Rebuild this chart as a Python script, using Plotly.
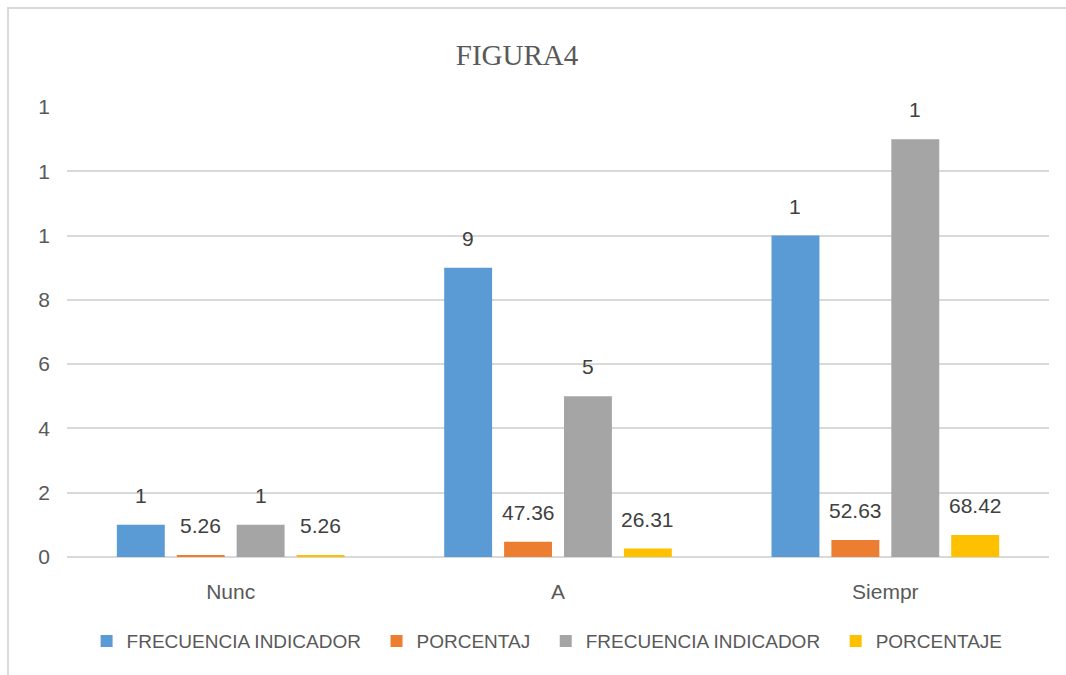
import plotly.graph_objects as go

categories = ["Nunc", "A", "Siempr"]
series_names = ["FRECUENCIA INDICADOR", "PORCENTAJ", "FRECUENCIA INDICADOR", "PORCENTAJE"]
freq_1 = [1, 9, 10]
pct_1 = [0.0526, 0.4736, 0.5263]
freq_2 = [1, 5, 13]
pct_2 = [0.0526, 0.2631, 0.6842]
labels_freq_1 = ["1", "9", "1"]
labels_pct_1 = ["5.26", "47.36", "52.63"]
labels_freq_2 = ["1", "5", "1"]
labels_pct_2 = ["5.26", "26.31", "68.42"]
y_tickvals = [0, 2, 4, 6, 8, 10, 12, 14]
y_ticktext = ["0", "2", "4", "6", "8", "1", "1", "1"]

colors = ["#5B9BD5", "#ED7D31", "#A5A5A5", "#FFC000"]
values = [freq_1, pct_1, freq_2, pct_2]
labels = [labels_freq_1, labels_pct_1, labels_freq_2, labels_pct_2]

W, H = 1066, 675
ml, mr, mt, mb = 67, 17, 107, 118
bargap = 0.268
bargroupgap = 0.2
NBSP = "\u00a0"

fig = go.Figure()
for name, vals, col in zip(series_names, values, colors):
    fig.add_trace(go.Bar(x=categories, y=vals, name=name + NBSP * 2, marker_color=col,
                         marker_line_width=0, hoverinfo="skip"))

# data labels above each bar, placed via axis coordinates
plot_w = W - ml - mr
plot_h = H - mt - mb
cat_px = plot_w / len(categories)
slot = cat_px * (1 - bargap) / len(values)
for i, (vals, labs) in enumerate(zip(values, labels)):
    shift = (i - (len(values) - 1) / 2) * slot
    for c, v, t in zip(categories, vals, labs):
        fig.add_annotation(x=c, y=v, xref="x", yref="y", text=t, showarrow=False,
                           xshift=shift, yshift=16, yanchor="bottom",
                           font=dict(family="Liberation Sans, Arial", size=21, color="#404040"))

# outer chart border (left/top edges visible)
fig.add_shape(type="rect", xref="paper", yref="paper",
              x0=(8 - ml) / plot_w, x1=(W + 20 - ml) / plot_w,
              y0=(H - mb - (H + 20)) / plot_h, y1=(H - mb - 8) / plot_h,
              line=dict(color="#D9D9D9", width=2), layer="below")

fig.update_layout(
    width=W, height=H,
    margin=dict(l=ml, r=mr, t=mt, b=mb),
    paper_bgcolor="white", plot_bgcolor="white",
    barmode="group", bargap=bargap, bargroupgap=bargroupgap,
    title=dict(text="FIGURA4", x=517 / W, xanchor="center",
               y=1 - 55 / H, yanchor="middle",
               font=dict(family="Liberation Serif, Times New Roman", size=29, color="#595959")),
    font=dict(family="Liberation Sans, Arial", color="#595959"),
    showlegend=True,
    legend=dict(orientation="h", x=0.494, xanchor="center", y=-0.187, yanchor="middle",
                font=dict(size=19, color="#595959"), itemwidth=30, traceorder="normal"),
    xaxis=dict(showgrid=False, showline=False, ticks="", tickfont=dict(size=21, color="#595959"),
               ticklabelstandoff=20),
    yaxis=dict(range=[0, 14], tickvals=y_tickvals, ticktext=y_ticktext,
               showgrid=True, gridcolor="#D9D9D9", gridwidth=1.5,
               zeroline=True, zerolinecolor="#D9D9D9", zerolinewidth=1.5,
               showline=False, ticks="", tickfont=dict(size=21, color="#595959"),
               ticklabelstandoff=16),
)

fig.write_html("out.html", config={"displayModeBar": False},
               post_script="document.body.style.margin='0';")
